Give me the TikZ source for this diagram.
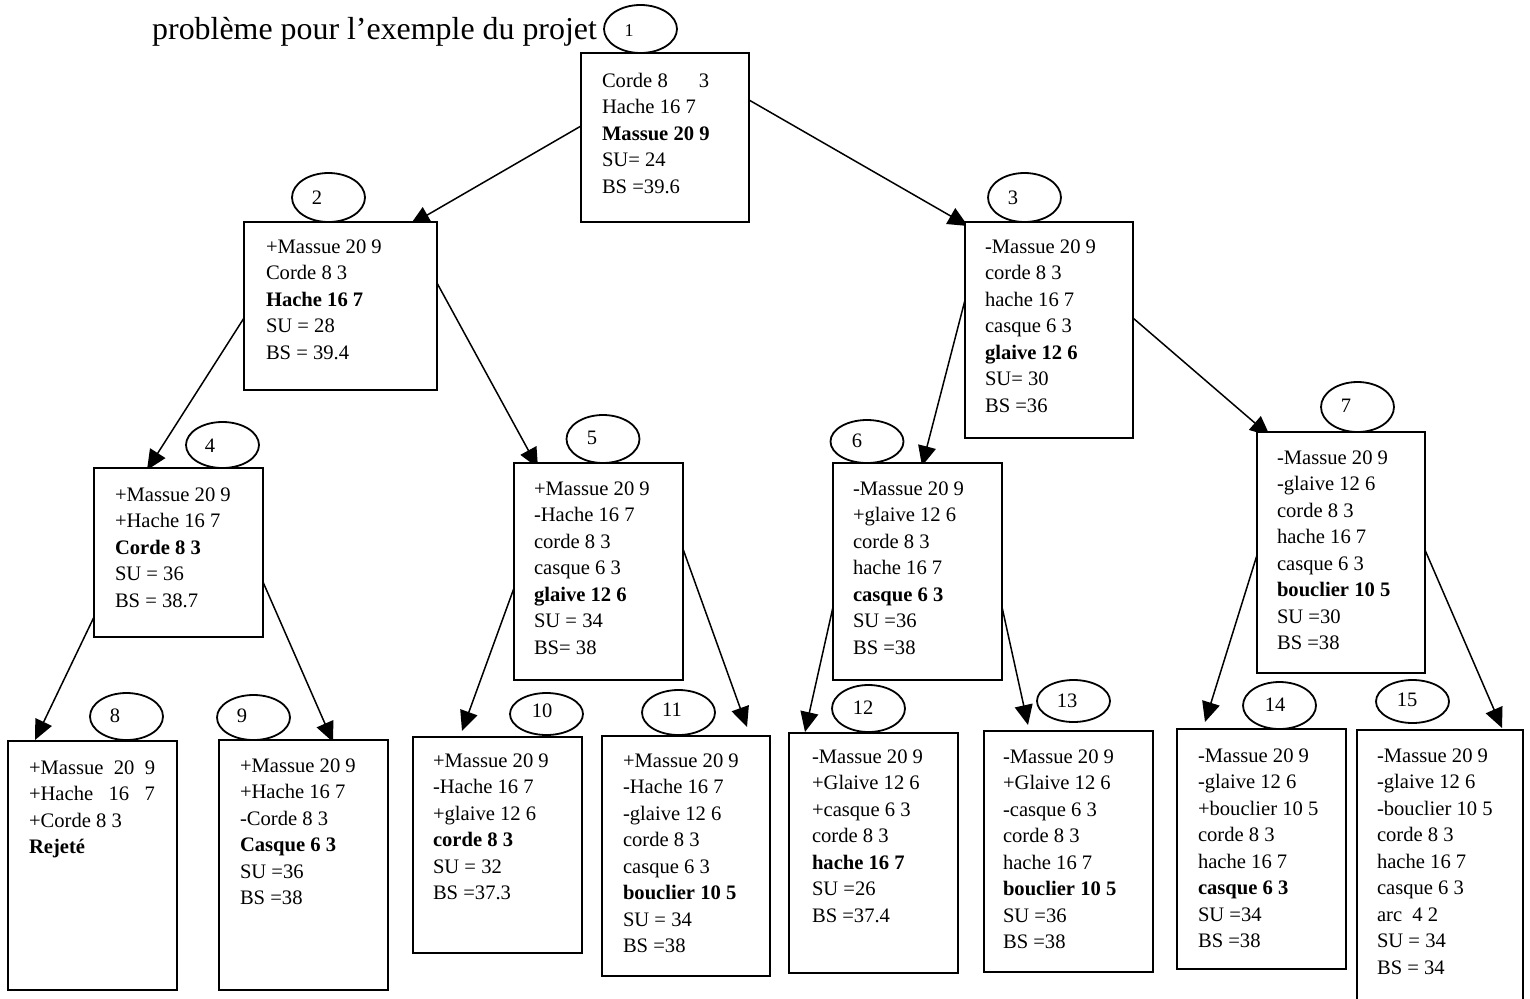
\documentclass[tikz,border=0pt]{standalone}
\usepackage{fontspec}
\setmainfont{Liberation Serif}
\usetikzlibrary{arrows.meta,shapes.geometric,calc}
\pgfdeclarelayer{bg}
\pgfsetlayers{bg,main}
\begin{document}
\begin{tikzpicture}[x=1pt,y=-1pt,
  boxst/.style={draw,line width=2pt,fill=white,inner sep=0pt,outer sep=0pt,anchor=north west,rectangle},
  txt/.style={inner sep=0pt,outer sep=0pt,anchor=north west,align=left,font=\fontsize{20.6}{26.5}\selectfont},
  ell/.style={draw,line width=1.8pt,fill=white,ellipse,inner sep=0pt,minimum width=73pt},
  num/.style={inner sep=0pt,font=\fontsize{20.5}{22}\selectfont},
  conn/.style={line width=1.5pt,-{Triangle[length=20pt,width=18pt]}}]
\useasboundingbox (0,0) rectangle (1530,998);

\node[inner sep=0pt,anchor=base west,font=\fontsize{31.9}{38}\selectfont] (title) at (152,40) {problème pour l’exemple du projet};

% boxes
\node[boxst,minimum width=168pt,minimum height=169pt] (b1) at (581,53) {};
\node[boxst,minimum width=193pt,minimum height=168pt] (b2) at (244,222) {};
\node[boxst,minimum width=168pt,minimum height=216pt] (b3) at (965,222) {};
\node[boxst,minimum width=169pt,minimum height=169pt] (b4) at (94,468) {};
\node[boxst,minimum width=169pt,minimum height=217pt] (b5) at (514,463) {};
\node[boxst,minimum width=169pt,minimum height=217pt] (b6) at (833,463) {};
\node[boxst,minimum width=168pt,minimum height=241pt] (b7) at (1257,432) {};
\node[boxst,minimum width=169pt,minimum height=249pt] (b8) at (8,741) {};
\node[boxst,minimum width=169pt,minimum height=250pt] (b9) at (219,740) {};
\node[boxst,minimum width=169pt,minimum height=216pt] (b10) at (413,737) {};
\node[boxst,minimum width=168pt,minimum height=240pt] (b11) at (602,736) {};
\node[boxst,minimum width=169pt,minimum height=240pt] (b12) at (789,733) {};
\node[boxst,minimum width=169pt,minimum height=241pt] (b13) at (984,731) {};
\node[boxst,minimum width=169pt,minimum height=240pt] (b14) at (1177,729) {};
\node[boxst,minimum width=166pt,minimum height=290pt] (b15) at (1357,730) {};

% texts (top = baseline - 18.55)
\node[txt] (t1) at (602,{87-18.55}) {\strut Corde 8\hspace{31pt}3\\Hache 16 7\\\textbf{Massue 20 9}\\SU= 24\\BS =39.6};
\node[txt] (t2) at (266,{253-18.55}) {\strut +Massue 20 9\\Corde 8 3\\\textbf{Hache 16 7}\\SU = 28\\BS = 39.4};
\node[txt] (t3) at (985,{253-18.55}) {\strut -Massue 20 9\\corde 8 3\\hache 16 7\\casque 6 3\\\textbf{glaive 12 6}\\SU= 30\\BS =36};
\node[txt] (t4) at (115,{501-18.55}) {\strut +Massue 20 9\\+Hache 16 7\\\textbf{Corde 8 3}\\SU = 36\\BS = 38.7};
\node[txt] (t5) at (534,{495-18.55}) {\strut +Massue 20 9\\-Hache 16 7\\corde 8 3\\casque 6 3\\\textbf{glaive 12 6}\\SU = 34\\BS= 38};
\node[txt] (t6) at (853,{495-18.55}) {\strut -Massue 20 9\\+glaive 12 6\\corde 8 3\\hache 16 7\\\textbf{casque 6 3}\\SU =36\\BS =38};
\node[txt] (t7) at (1277,{464-18.55}) {\strut -Massue 20 9\\-glaive 12 6\\corde 8 3\\hache 16 7\\casque 6 3\\\textbf{bouclier 10 5}\\SU =30\\BS =38};
\node[txt] (t8) at (29,{774-18.55}) {\strut +Massue\ \ 20\ \ 9\\+Hache\ \ \ 16\ \ \ 7\\+Corde 8 3\\\textbf{Rejeté}};
\node[txt] (t9) at (240,{772-18.55}) {\strut +Massue 20 9\\+Hache 16 7\\-Corde 8 3\\\textbf{Casque 6 3}\\SU =36\\BS =38};
\node[txt] (t10) at (433,{767-18.55}) {\strut +Massue 20 9\\-Hache 16 7\\+glaive 12 6\\\textbf{corde 8 3}\\SU = 32\\BS =37.3};
\node[txt] (t11) at (623,{767-18.55}) {\strut +Massue 20 9\\-Hache 16 7\\-glaive 12 6\\corde 8 3\\casque 6 3\\\textbf{bouclier 10 5}\\SU = 34\\BS =38};
\node[txt] (t12) at (812,{763-18.55}) {\strut -Massue 20 9\\+Glaive 12 6\\+casque 6 3\\corde 8 3\\\textbf{hache 16 7}\\SU =26\\BS =37.4};
\node[txt] (t13) at (1003,{763-18.55}) {\strut -Massue 20 9\\+Glaive 12 6\\-casque 6 3\\corde 8 3\\hache 16 7\\\textbf{bouclier 10 5}\\SU =36\\BS =38};
\node[txt] (t14) at (1198,{762-18.55}) {\strut -Massue 20 9\\-glaive 12 6\\+bouclier 10 5\\corde 8 3\\hache 16 7\\\textbf{casque 6 3}\\SU =34\\BS =38};
\node[txt] (t15) at (1377,{762-18.55}) {\strut -Massue 20 9\\-glaive 12 6\\-bouclier 10 5\\corde 8 3\\hache 16 7\\casque 6 3\\arc\ \ 4 2\\SU = 34\\BS = 34};

% ellipses
\node[ell,minimum height=48pt] (e1) at (640.5,29) {};
\node[ell,minimum height=49pt] (e2) at (328.5,197.5) {};
\node[ell,minimum height=49pt] (e3) at (1024.5,197.5) {};
\node[ell,minimum height=46pt] (e4) at (222.5,445) {};
\node[ell,minimum height=48pt] (e5) at (603,439) {};
\node[ell,minimum height=43pt] (e6) at (867,441.5) {};
\node[ell,minimum height=50pt] (e7) at (1357.5,407) {};
\node[ell,minimum height=47pt] (e8) at (126.5,716.5) {};
\node[ell,minimum height=45pt] (e9) at (253.5,717.5) {};
\node[ell,minimum height=42pt] (e10) at (546.5,714) {};
\node[ell,minimum height=45pt] (e11) at (678.5,712.5) {};
\node[ell,minimum height=47pt] (e12) at (868.5,708.5) {};
\node[ell,minimum height=42pt] (e13) at (1073.5,701) {};
\node[ell,minimum height=47pt] (e14) at (1279.5,705.5) {};
\node[ell,minimum height=43pt] (e15) at (1412.5,701.5) {};

\node[num,font=\fontsize{18}{20}\selectfont] (n1) at (629,31) {1};
\node[num] (n2) at (317,198) {2};
\node[num] (n3) at (1013,198) {3};
\node[num] (n4) at (210,446) {4};
\node[num] (n5) at (592,438) {5};
\node[num] (n6) at (857,441) {6};
\node[num] (n7) at (1346,406) {7};
\node[num] (n8) at (115,716) {8};
\node[num] (n9) at (242,716) {9};
\node[num] (n10) at (542,711) {10};
\node[num] (n11) at (672,710) {11};
\node[num] (n12) at (863,708) {12};
\node[num] (n13) at (1067,701) {13};
\node[num] (n14) at (1275,705) {14};
\node[num] (n15) at (1407,700) {15};

% connectors
\begin{pgfonlayer}{bg}
\draw[conn] ($(b1.north west)+(0,73)$) -- ($(b2.north west)+(166,3)$);
\draw[conn] ($(b1.north east)+(0,47)$) -- ($(b3.north west)+(3,4)$);
\draw[conn] ($(b2.north west)+(0,96)$) -- ($(b4.north west)+(53,2)$);
\draw[conn] ($(b2.north east)+(0,61)$) -- ($(b5.north west)+(24,5)$);
\draw[conn] ($(b3.north west)+(0,78)$) -- ($(b6.north west)+(89,3)$);
\draw[conn] ($(b3.north east)+(0,96)$) -- ($(b7.north west)+(13,4)$);
\draw[conn] ($(b4.north west)+(0,149)$) -- ($(b8.north west)+(27,-1)$);
\draw[conn] ($(b4.north east)+(0,114)$) -- ($(b9.north west)+(114,2)$);
\draw[conn] ($(b5.north west)+(0,125)$) -- ($(b10.north west)+(49,-6)$);
\draw[conn] ($(b5.north east)+(0,86)$) -- ($(b11.north west)+(145,-9)$);
\draw[conn] ($(b6.north west)+(0,144)$) -- ($(b12.north west)+(16,-1)$);
\draw[conn] ($(b6.north east)+(0,144)$) -- ($(b13.north west)+(44,-6)$);
\draw[conn] ($(b7.north west)+(0,123)$) -- ($(b14.north west)+(28,-7)$);
\draw[conn] ($(b7.north east)+(0,118)$) -- ($(b15.north west)+(145,-2)$);
\end{pgfonlayer}
\end{tikzpicture}
\end{document}
